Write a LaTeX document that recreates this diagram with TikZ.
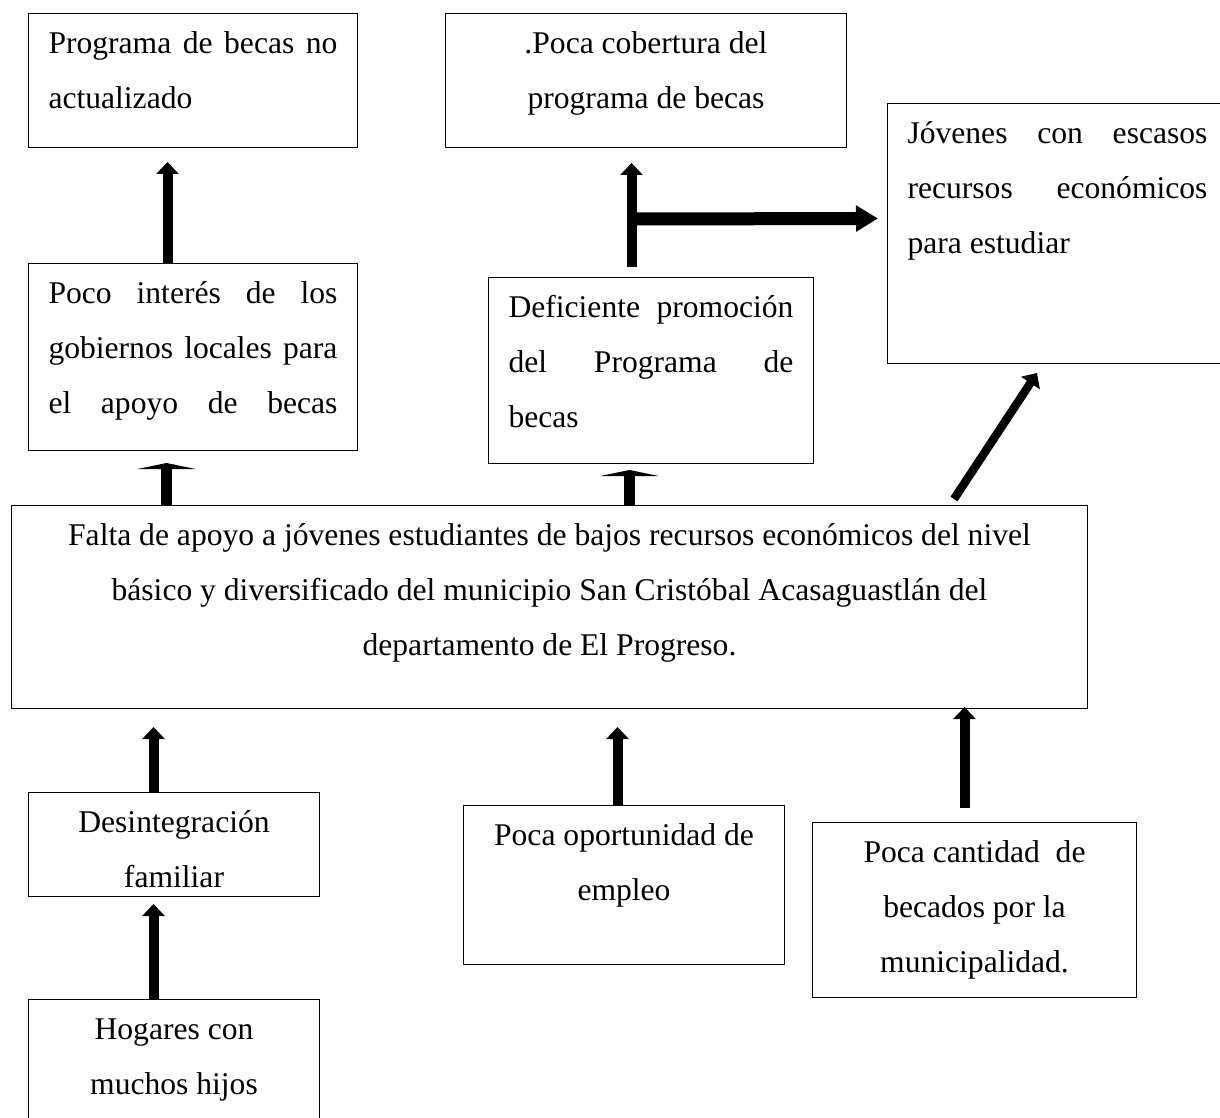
\documentclass[tikz,border=0pt]{standalone}
\usepackage{fontspec}
\setmainfont{Liberation Serif}
\usepackage{tikz}
\usetikzlibrary{arrows.meta,calc}

\newcommand{\textocaja}[3]{\parbox[c][#2][t]{#1}{\fontsize{15.8}{27.5}\selectfont\rule{0pt}{20pt}#3}}

\begin{document}
\begin{tikzpicture}[x=0.5pt,y=-0.5pt,
  caja/.style={draw,rectangle,line width=0.5pt,inner xsep=10pt,inner ysep=0pt,anchor=north west},
  flecha/.style={line width=5pt,-{Triangle[width=11pt,length=6pt]}},
  flechaplana/.style={line width=5.5pt,-{Triangle[width=29pt,length=3pt]}},
  flechaancha/.style={line width=6.5pt,-{Triangle[width=12.5pt,length=11pt]}}]
\path[use as bounding box,clip] (0,0) rectangle (1220,1118);
% efectos
\node[caja] (programa) at (28,13) {\textocaja{144.5pt}{67pt}{Programa de becas no\linebreak actualizado}};
\node[caja] (cobertura) at (445,13) {\textocaja{180.5pt}{67pt}{\centering .Poca cobertura del\\ programa de becas}};
\node[caja] (jovenes) at (887,103) {\textocaja{150pt}{130pt}{Jóvenes con escasos\linebreak recursos económicos\linebreak para estudiar}};
\node[caja] (interes) at (28,263) {\textocaja{144.5pt}{93.5pt}{\parfillskip=0pt\relax Poco interés de los\linebreak gobiernos locales para\linebreak el apoyo de becas}};
\node[caja] (deficiente) at (488,277) {\textocaja{142.5pt}{93pt}{Deficiente promoción\linebreak del Programa de\linebreak becas}};
\node[caja] (falta) at (11,505) {\textocaja{518pt}{101.5pt}{\centering Falta de apoyo a jóvenes estudiantes de bajos recursos económicos del nivel\\ básico y diversificado del municipio San Cristóbal Acasaguastlán del\\ departamento de El Progreso.}};
% causas
\node[caja] (desintegracion) at (28,792) {\textocaja{125.5pt}{52pt}{\centering Desintegración\\ familiar}};
\node[caja] (hogares) at (28,999) {\textocaja{125.5pt}{70pt}{\centering Hogares con\\ muchos hijos}};
\node[caja] (empleo) at (463,805) {\textocaja{140.5pt}{79.5pt}{\centering Poca oportunidad de\\ empleo}};
\node[caja] (becados) at (812,822) {\textocaja{142pt}{87.5pt}{\centering Poca cantidad\ \ de\\ becados por la\\ municipalidad.}};

\draw[flecha] ($(interes.north)+(-25.5,0)$) -- ($(programa.south)+(-25.5,14)$);
\draw[flechaplana] ($(interes.south |- falta.north)+(-26.5,0)$) -- ($(interes.south)+(-26.5,12)$);
\draw[flechaplana] ($(deficiente.south |- falta.north)+(-21.5,0)$) -- ($(deficiente.south)+(-21.5,6)$);
\coordinate (rama) at ($(cobertura.south)+(-14.5,71)$);
\draw[flecha] ($(cobertura.south |- deficiente.north)+(-14.5,-10)$) -- ($(cobertura.south)+(-14.5,15)$);
\draw[flechaancha] (rama) -- ($(jovenes.west)+(-9,-15)$);
\draw[flecha,line width=4.2pt] ($(falta.north east)+(-134,-6)$) -- ($(jovenes.south west)+(150,9)$);
\draw[flecha] ($(desintegracion.north)+(-20.5,0)$) -- ($(desintegracion.north |- falta.south)+(-20.5,18)$);
\draw[flecha] ($(hogares.north)+(-20.5,0)$) -- ($(desintegracion.south)+(-20.5,7)$);
\draw[flecha] ($(empleo.north)+(-6.5,0)$) -- ($(empleo.north |- falta.south)+(-6.5,18)$);
\draw[flecha] ($(becados.north)+(-10,-14)$) -- ($(becados.north |- falta.south)+(-10,-2)$);
\end{tikzpicture}
\end{document}
